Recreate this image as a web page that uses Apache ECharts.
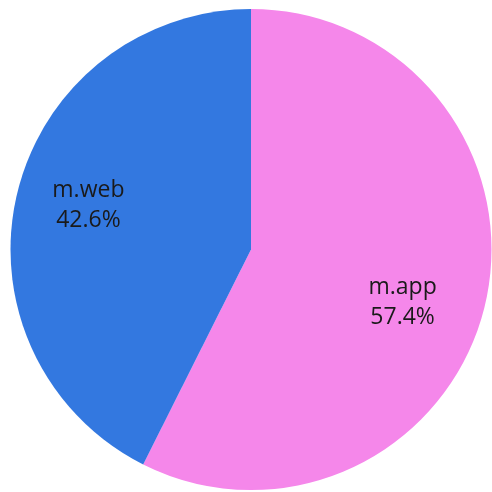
<!DOCTYPE html>
<html><head><meta charset="utf-8">
<script src="https://cdn.jsdelivr.net/npm/echarts@6/dist/echarts.min.js"></script>
<style>html,body{margin:0;padding:0;background:#fff}#c{width:492px;height:492px}</style>
</head><body><div id="c"></div>
<script>
const categories = ['m.app', 'm.web'];
const values = [57.4, 42.6];
const colors = ['#F587EA', '#3378E0'];
const data = categories.map((n, i) => ({ name: n, value: values[i], itemStyle: { color: colors[i] } }));
const labelShift = [[-7, 15], [-4, -6]];
const chart = echarts.init(document.getElementById('c'));
chart.setOption({
  animation: false,
  series: [
    {
      type: 'pie', center: [251, 249.5], radius: [0, 240.5], startAngle: 90, clockwise: true,
      label: { show: false }, labelLine: { show: false }, silent: true,
      itemStyle: { borderWidth: 0 },
      data: data
    },
    {
      type: 'pie', center: [251, 249.5], radius: [80, 240], startAngle: 90, clockwise: true, silent: true,
      itemStyle: { color: 'transparent', borderWidth: 0 },
      label: {
        show: true, position: 'inside', color: '#1a1a1a', fontFamily: 'Open Sans', fontSize: 23, lineHeight: 30,
        formatter: p => p.name + '\n' + p.value.toFixed(1) + '%'
      },
      labelLayout: p => ({ dx: labelShift[p.dataIndex][0], dy: labelShift[p.dataIndex][1] }),
      labelLine: { show: false },
      data: categories.map((n, i) => ({ name: n, value: values[i] }))
    }
  ]
});
</script></body></html>
